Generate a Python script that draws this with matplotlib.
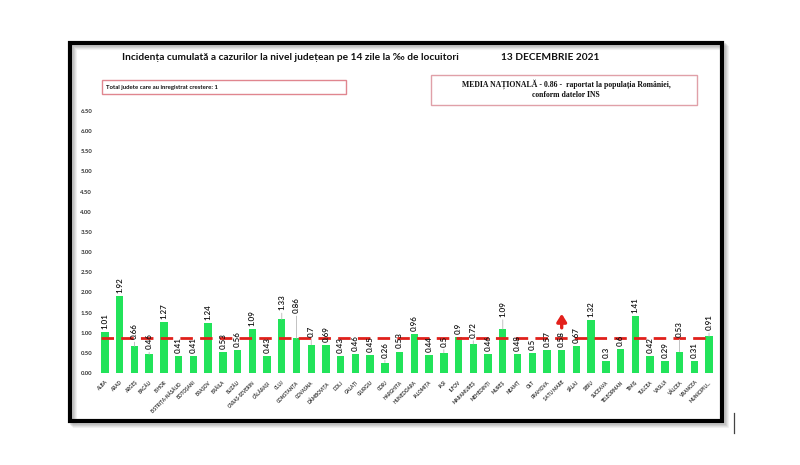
import matplotlib
matplotlib.use("Agg")
import matplotlib.pyplot as plt
from matplotlib.patches import Rectangle
from matplotlib.lines import Line2D

counties = ["ALBA", "ARAD", "ARGEȘ", "BACĂU", "BIHOR", "BISTRIȚA-NĂSĂUD", "BOTOȘANI",
            "BRAȘOV", "BRĂILA", "BUZĂU", "CARAȘ-SEVERIN", "CĂLĂRAȘI", "CLUJ", "CONSTANȚA",
            "COVASNA", "DÂMBOVIȚA", "DOLJ", "GALAȚI", "GIURGIU", "GORJ", "HARGHITA",
            "HUNEDOARA", "IALOMIȚA", "IAȘI", "ILFOV", "MARAMUREȘ", "MEHEDINȚI", "MUREȘ",
            "NEAMȚ", "OLT", "PRAHOVA", "SATU MARE", "SĂLAJ", "SIBIU", "SUCEAVA",
            "TELEORMAN", "TIMIȘ", "TULCEA", "VASLUI", "VÂLCEA", "VRANCEA", "MUNICIPIU..."]
values = [1.01, 1.92, 0.66, 0.46, 1.27, 0.41, 0.41, 1.24, 0.53, 0.56, 1.09, 0.43, 1.33, 0.86,
          0.7, 0.69, 0.43, 0.46, 0.45, 0.26, 0.53, 0.96, 0.44, 0.5, 0.9, 0.72, 0.46, 1.09,
          0.48, 0.5, 0.57, 0.58, 0.67, 1.32, 0.3, 0.6, 1.41, 0.42, 0.29, 0.53, 0.31, 0.91]
national_avg = 0.86
increase_counties = ["SATU MARE"]
yticks = [0.0, 0.5, 1.0, 1.5, 2.0, 2.5, 3.0, 3.5, 4.0, 4.5, 5.0, 5.5, 6.0, 6.5]

title = "Incidența cumulată a cazurilor la nivel județean pe 14 zile la ‰ de locuitori"
date_text = "13 DECEMBRIE 2021"
box_left = "Total judete care au inregistrat crestere: 1"
box_right = "MEDIA NAȚIONALĂ - 0.86 -  raportat la populația României,\nconform datelor INS"

W, H = 800, 465
fig = plt.figure(figsize=(8, 4.65), dpi=100)
fig.patch.set_facecolor("white")

def fx(px):
    return px / W

def fy(py):
    return 1 - py / H

# frame shadow
for k, a in [(5, 0.10), (4, 0.12), (3, 0.16), (2, 0.2)]:
    fig.patches.append(Rectangle((fx(70 + k), fy(421 + k)), fx(722 - 70), (421 - 43) / H,
                                 transform=fig.transFigure, fill=False,
                                 edgecolor=(0.5, 0.5, 0.5, a), lw=3, zorder=0))
# frame
fig.patches.append(Rectangle((fx(70), fy(421)), fx(722 - 70), (421 - 43) / H,
                             transform=fig.transFigure, fill=False, edgecolor="black",
                             lw=3, zorder=1))
fig.lines.append(Line2D([fx(734), fx(734)], [fy(413), fy(433)], transform=fig.transFigure,
                        color="#444444", lw=0.9))

ax = fig.add_axes([fx(97.6), fy(373), fx(716.4 - 97.6), (373 - 111) / H])
ax.set_facecolor("none")
x = list(range(len(values)))
ax.bar(x, values, width=0.5, color="#22e35a", zorder=2)
ax.axhline(national_avg, xmin=0.005, xmax=0.99, color="#e0201b", lw=2.0,
           dashes=(4.5, 2.6), zorder=3)

# value labels
lift_px = {"CLUJ": 9, "CONSTANȚA": 25, "MUREȘ": 12, "VÂLCEA": 15, "COVASNA": 8,
           "ARGEȘ": 7, "GORJ": 5, "IAȘI": 6, "HARGHITA": 4, "MUNICIPIU...": 6,
           "MARAMUREȘ": 6, "BACĂU": 5}
for i, (name, v) in enumerate(zip(counties, values)):
    lift = lift_px.get(name, 3)
    kw = {}
    if lift > 4:
        kw["arrowprops"] = dict(arrowstyle="-", color="#b8b8b8", lw=0.6,
                                shrinkA=0, shrinkB=0)
    ax.annotate(f"{v:g}", xy=(i, v), xytext=(0, lift * 0.72), textcoords="offset points",
                rotation=90, ha="center", va="bottom", fontsize=5.8,
                family="Lato", fontweight="semibold", color="#111111", zorder=5, **kw)

# increase arrows
for name in increase_counties:
    i = counties.index(name)
    ax.annotate("", xy=(i, 1.47), xytext=(i, 1.12),
                arrowprops=dict(arrowstyle="-|>,head_width=0.28,head_length=0.45",
                                color="#e3201b", lw=2.4, mutation_scale=10,
                                shrinkA=0, shrinkB=0), zorder=6)

ax.set_xlim(-0.5, len(values) - 0.5)
ax.set_ylim(0, 6.5)
ax.set_yticks(yticks)
ax.set_yticklabels([f"{t:.2f}" for t in yticks], fontsize=4.3, family="Lato",
                   fontweight="bold", color="#333333")
ax.set_xticks(x)
ax.set_xticklabels(counties, rotation=45, ha="right", rotation_mode="anchor",
                   fontsize=3.3, family="Lato", fontweight="bold", color="#333333")
ax.tick_params(axis="both", length=0, pad=4)
ax.tick_params(axis="x", pad=5)
for s in ax.spines.values():
    s.set_visible(False)

# titles
fig.text(fx(290), fy(57), title, ha="center", va="center", fontsize=7.3,
         family="Lato", fontweight="bold", color="#111111")
fig.text(fx(550), fy(57), date_text, ha="center", va="center", fontsize=7.3,
         family="Lato", fontweight="bold", color="#111111")

# boxes
fig.patches.append(Rectangle((fx(102), fy(93.7)), fx(346 - 102), (93.7 - 80.3) / H,
                             transform=fig.transFigure, fill=False, edgecolor="#e0868f",
                             lw=1.0))
fig.text(fx(106), fy(87), box_left, ha="left", va="center", fontsize=4.3,
         family="Lato", fontweight="bold", color="#111111")
fig.patches.append(Rectangle((fx(431), fy(105.3)), fx(697 - 431), (105.3 - 75.3) / H,
                             transform=fig.transFigure, fill=False, edgecolor="#e0a0a8",
                             lw=1.0))
fig.text(fx(566), fy(89), box_right, ha="center", va="center", fontsize=5.6,
         family="Liberation Serif", fontweight="bold", color="#111111", linespacing=1.25)

fig.savefig("out.png", dpi=100, facecolor="white")
